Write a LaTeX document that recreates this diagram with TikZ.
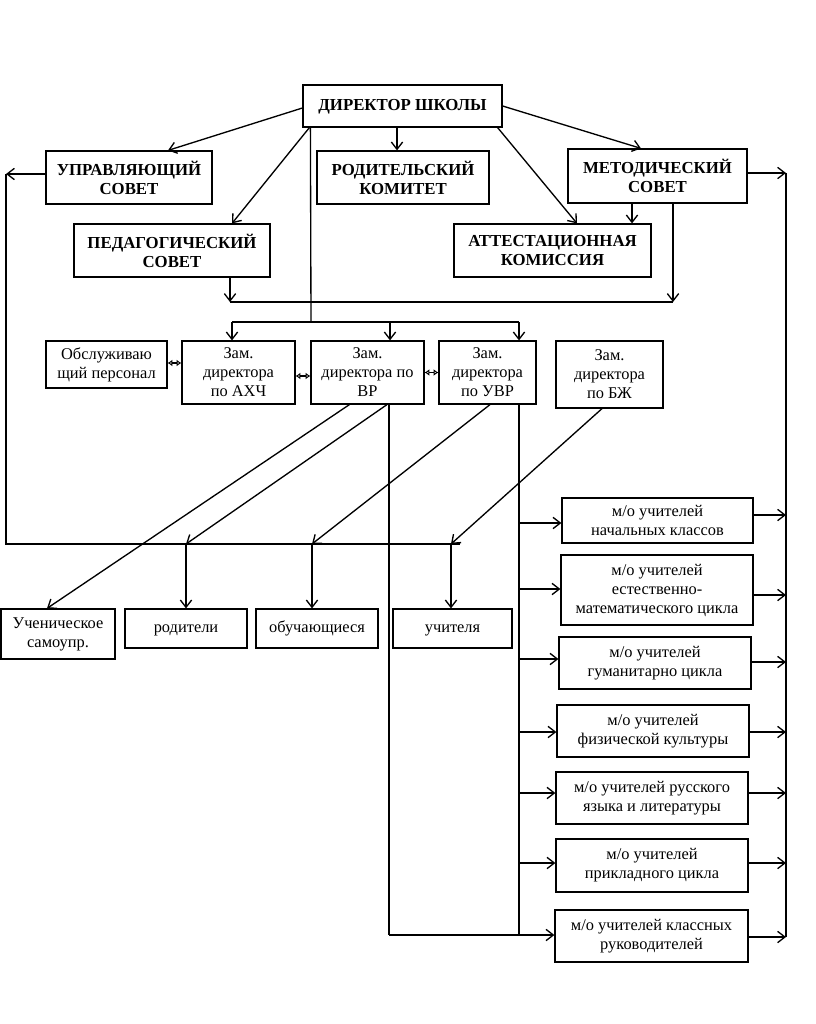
\documentclass[tikz,border=0pt]{standalone}
\usepackage{fontspec}
\setmainfont{Liberation Serif}
\usetikzlibrary{arrows.meta,calc}
\begin{document}
\begin{tikzpicture}[x=0.75pt,y=-0.75pt,
 corners/.style n args={4}{minimum width={(#3-#1)*0.75pt},minimum height={(#4-#2)*0.75pt},at={({(#1+#3)/2},{(#2+#4)/2})}},
 box/.style={draw,line width=0.9pt,inner sep=0pt,align=center,font=\fontsize{12.3pt}{14.25pt}\selectfont},
 bbox/.style={box,font=\fontsize{12.6pt}{14.25pt}\selectfont\bfseries},
 one/.style={text height=8.6pt,text depth=2.6pt},
 ln/.style={line width=1pt},
 arr/.style={ln,-{Straight Barb[length=5.5pt,width=8.5pt]}},
 dbl/.style={line width=1.1pt,{Latex[open,length=3.5pt,width=5pt]}-{Latex[open,length=3.5pt,width=5pt]}}]
\useasboundingbox (0,0) rectangle (815,1024);

% top level
\node[bbox,one,corners={303}{85}{502}{127}] (dir) {ДИРЕКТОР ШКОЛЫ};
\node[bbox,corners={46}{151}{212}{204}] (us) {УПРАВЛЯЮЩИЙ\\СОВЕТ};
\node[bbox,corners={317}{151}{489}{204}] (rk) {РОДИТЕЛЬСКИЙ\\КОМИТЕТ};
\node[bbox,corners={568}{149}{747}{203}] (ms) {МЕТОДИЧЕСКИЙ\\СОВЕТ};
\node[bbox,corners={74}{224}{270}{277}] (ps) {ПЕДАГОГИЧЕСКИЙ\\СОВЕТ};
\node[bbox,corners={454}{224}{651}{277}] (ak) {АТТЕСТАЦИОННАЯ\\КОМИССИЯ};

% deputies
\node[box,corners={46}{341}{167}{388}] (obs) {Обслуживаю\\щий персонал};
\node[box,corners={182}{341}{295}{404}] (axch) {Зам.\\директора\\по АХЧ};
\node[box,corners={311}{341}{424}{404}] (vr) {Зам.\\директора по\\ВР};
\node[box,corners={439}{341}{536}{404}] (uvr) {Зам.\\директора\\по УВР};
\node[box,corners={556}{341}{663}{408}] (bzh) {Зам.\\директора\\по БЖ};

% lower row
\node[box,corners={1}{609}{115}{659}] (uch) {Ученическое\\самоупр.};
\node[box,one,corners={125}{609}{247}{648}] (rod) {родители};
\node[box,one,corners={256}{609}{378}{648}] (obu) {обучающиеся};
\node[box,one,corners={393}{609}{512}{648}] (uchit) {учителя};

% methodical unions
\node[box,corners={562}{498}{753}{543}] (m1) {м/о учителей\\начальных классов};
\node[box,corners={561}{555}{753}{625}] (m2) {м/о учителей\\естественно-\\математического цикла};
\node[box,corners={559}{637}{751}{689}] (m3) {м/о учителей\\гуманитарно цикла};
\node[box,corners={557}{705}{749}{757}] (m4) {м/о учителей\\физической культуры};
\node[box,corners={556}{772}{748}{824}] (m5) {м/о учителей русского\\языка и литературы};
\node[box,corners={556}{839}{748}{892}] (m6) {м/о учителей\\прикладного цикла};
\node[box,corners={555}{910}{748}{962}] (m7) {м/о учителей классных\\руководителей};

% helper coordinates
\coordinate (rt) at (786,173);
\coordinate (rb) at (786,937);
\coordinate (lt) at (6,174);
\coordinate (lb) at (6,544);
\coordinate (hr) at (460,544);
\coordinate (d1) at (230,302);
\coordinate (d2) at (673,302);
\coordinate (c1) at (311,322);
\coordinate (e1) at (232,322);
\coordinate (e2) at (390,322);
\coordinate (e3) at (519,322);
\coordinate (j1) at (186,544);
\coordinate (j2) at (312,544);
\coordinate (j3) at (451,544);
\coordinate (vb) at (389,935);
\coordinate (ub) at (519,935);

% director connectors
\draw[arr] ($(dir.west)+(0,2)$) -- ($(us.north)+(39,0)$);
\draw[arr] ($(dir.south west)+(7,0)$) -- ($(ps.north)+(60,0)$);
\draw[arr] ($(dir.south)+(-5.5,0)$) -- ($(rk.north)+(-6,0)$);
\draw[arr] (dir.east) -- ($(ms.north)+(-16.5,0)$);
\draw[arr] ($(dir.south east)+(-5,0)$) -- ($(ak.north)+(24.5,0)$);
\draw[arr] ($(ms.south)+(-25.5,0)$) -- ($(ak.north)+(79.5,0)$);

% side buses
\draw[arr] ($(ms.east)+(0,-3)$) -- (rt);
\draw[ln] (rt) -- (rb);
\draw[arr] ($(us.west)+(0,-3.5)$) -- (lt);
\draw[ln] (lt) -- (lb) -- (hr);

% councils to horizontal line
\draw[arr] ($(ps.south)+(58,0)$) -- (d1);
\draw[arr] ($(ms.south)+(15.5,0)$) -- (d2);
\draw[ln] (d1) -- (d2);

% director down to deputies
\draw[ln] ($(dir.south west)+(8,0)$) -- (c1);
\draw[ln] (e1) -- (e3);
\draw[arr] (e1) -- (e1 |- axch.north);
\draw[arr] (e2) -- (e2 |- vr.north);
\draw[arr] (e3) -- (e3 |- uvr.north);

% double arrows between deputies
\draw[dbl] ($(obs.east)+(0,-1.5)$) -- ($(obs.east -| axch.west)+(0,-1.5)$);
\draw[dbl] ($(axch.east)+(0,3.5)$) -- ($(vr.west)+(0,3.5)$);
\draw[dbl] (vr.east) -- (uvr.west);

% deputies to lower row
\draw[arr] ($(vr.south west)+(39,0)$) -- ($(uch.north)+(-11,0)$);
\draw[arr] ($(vr.south)+(19.5,0)$) -- (j1);
\draw[arr] ($(uvr.south)+(2.5,0)$) -- (j2);
\draw[arr] ($(bzh.south)+(-7.5,0)$) -- (j3);
\draw[arr] (j1) -- (j1 |- rod.north);
\draw[arr] (j2) -- (j2 |- obu.north);
\draw[arr] (j3) -- (j3 |- uchit.north);

% verticals to methodical unions
\draw[ln] ($(vr.south)+(21.5,0)$) -- (vb);
\draw[ln] ($(uvr.south)+(31.5,0)$) -- (ub);
\draw[arr] (vb) -- (vb -| m7.west);
\foreach \n/\di/\do in {1/2.5/-5.5, 2/-1/5, 3/-4/-1, 4/1/1, 5/-5/-5, 6/-2.5/-2.5}{
  \draw[arr] ($(m\n.west -| ub)+(0,\di)$) -- ($(m\n.west)+(0,\di)$);
  \draw[arr] ($(m\n.east)+(0,\do)$) -- ($(m\n.east -| rb)+(0,\do)$);
}
\draw[arr] ($(m7.east)+(0,1)$) -- ($(m7.east -| rb)+(0,1)$);
\end{tikzpicture}
\end{document}
